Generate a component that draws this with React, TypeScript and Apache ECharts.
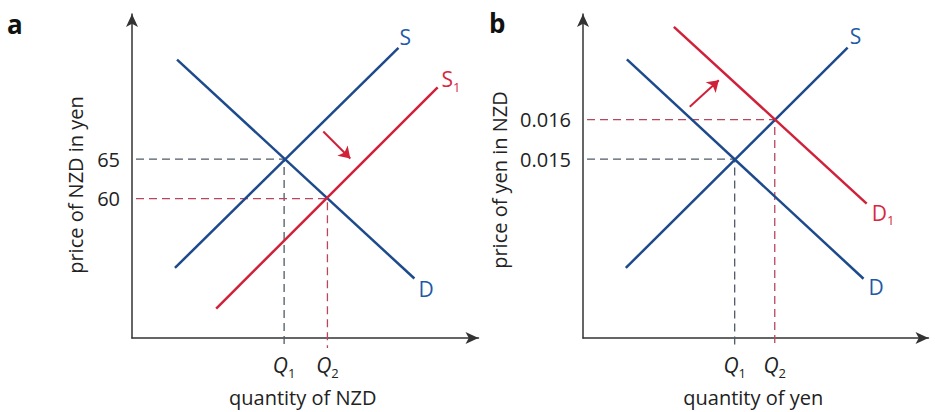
import React, { useEffect, useRef } from "react";
import * as echarts from "echarts";

// ---------- Panel a: market for NZD (price in yen) ----------
const A_DEMAND = [[13.0, 77.6], [81.5, 49.9]];
const A_SUPPLY = [[12.4, 51.25], [76.9, 79.1]];
const A_SUPPLY1 = [[24.3, 46.1], [88.2, 74.1]];
const A_PRICES = [65, 60]; // equilibrium prices (old, new)
const A_QUANTITIES = [43.9, 56.4]; // Q1, Q2
const A_SHIFT_ARROW = [[55.2, 68.5], [63.0, 65.1]];
const A_Y_RANGE = [42.375, 83.375];

// ---------- Panel b: market for yen (price in NZD) ----------
const B_DEMAND = [[12.7, 0.017525], [81.2, 0.011975]];
const B_SUPPLY = [[12.4, 0.01225], [76.6, 0.017825]];
const B_DEMAND1 = [[26.3, 0.01835], [82.1, 0.013875]];
const B_PRICES = [0.015, 0.016];
const B_QUANTITIES = [43.9, 55.5];
const B_SHIFT_ARROW = [[30.9, 0.016325], [39.3, 0.017]];
const B_Y_RANGE = [0.010475, 0.018675];

const X_RANGE = [0, 100];
const Q_SUBS = ["1", "2"];

const FONT = "Open Sans";
const BLUE = "#1d4a8c";
const RED = "#d0213a";
const LABEL_BLUE = "#1f5aa8";
const LABEL_RED = "#d9263f";
const GUIDE_GRAY = "#4f5b66";
const GUIDE_RED = "#b8465c";
const AXIS = "#333333";

const richLabel = (color: string) => ({
  m: { fontFamily: FONT, fontSize: 21, color },
  s: { fontFamily: FONT, fontSize: 13, color, padding: [15, 0, 0, 0] },
});

export default function App() {
  const ref = useRef<HTMLDivElement>(null);

  useEffect(() => {
    if (!ref.current) return;
    document.body.style.margin = "0";
    const chart = echarts.init(ref.current, null, { renderer: "svg" });

    const X_EXT = 2.6; // guide extends past the y axis
    const aYExt = 1.25;
    const bYExt = 0.00025;

    const axisLine = {
      show: true,
      symbol: ["none", "arrow"],
      symbolSize: [9, 13],
      lineStyle: { color: AXIS, width: 1.5 },
    };

    const xAxisBase = (gridIndex: number, name: string, qs: number[]) => ({
      type: "value",
      gridIndex,
      min: X_RANGE[0],
      max: X_RANGE[1],
      axisLine,
      axisTick: { show: false },
      splitLine: { show: false },
      name,
      nameLocation: "middle",
      nameGap: 49,
      nameTextStyle: {
        fontFamily: FONT,
        fontSize: 20,
        color: "#222",
        padding: [0, 5, 0, 0],
      },
      axisLabel: {
        customValues: qs,
        margin: 13,
        hideOverlap: false,
        formatter: (v: number) => {
          const i = qs.indexOf(v);
          return `{q|Q}{s|${Q_SUBS[i >= 0 ? i : 0]}}`;
        },
        rich: {
          q: { fontFamily: FONT, fontSize: 21, fontStyle: "italic", color: "#222" },
          s: { fontFamily: FONT, fontSize: 13, color: "#222", padding: [15, 0, 0, 0] },
        },
      },
    });

    const yAxisBase = (
      gridIndex: number,
      name: string,
      range: number[],
      prices: number[],
      gap: number,
      shiftPad: number,
      fmt: (v: number) => string
    ) => ({
      type: "value",
      gridIndex,
      min: range[0],
      max: range[1],
      axisLine,
      axisTick: { show: false },
      splitLine: { show: false },
      name,
      nameLocation: "middle",
      nameGap: gap,
      nameTextStyle: {
        fontFamily: FONT,
        fontSize: 20,
        color: "#222",
        padding: [0, shiftPad, 0, 0],
      },
      axisLabel: {
        customValues: prices,
        margin: 12,
        fontFamily: FONT,
        fontSize: 20,
        color: "#222",
        formatter: fmt,
      },
    });

    const curve = (
      idx: number,
      data: number[][],
      color: string,
      labelColor: string,
      text: string,
      offset: number[],
      distance: number,
      extra: any = {}
    ) => ({
      type: "line",
      xAxisIndex: idx,
      yAxisIndex: idx,
      data,
      symbol: "none",
      z: 3,
      lineStyle: { color, width: 2.5 },
      endLabel: {
        show: true,
        formatter: text,
        offset,
        distance,
        rich: richLabel(labelColor),
      },
      ...extra,
    });

    const guide = (
      idx: number,
      q: number,
      p: number,
      xStart: number,
      yEnd: number,
      color: string
    ) => ({
      type: "line",
      xAxisIndex: idx,
      yAxisIndex: idx,
      clip: false,
      symbol: "none",
      z: 2,
      data: [
        [xStart, p],
        [q, p],
        [q, yEnd],
      ],
      lineStyle: { color, width: 1.3, type: [8, 5] },
    });

    const arrow = (pts: number[][]) => ({
      markLine: {
        silent: true,
        symbol: ["none", "arrow"],
        symbolSize: 11,
        label: { show: false },
        lineStyle: { color: RED, width: 2, type: "solid" },
        data: [[{ coord: pts[0] }, { coord: pts[1] }]],
      },
    });

    const option: any = {
      animation: false,
      textStyle: { fontFamily: FONT },
      grid: [
        { left: 132, right: 456.5, top: 14, bottom: 70 },
        { left: 583, right: 6.5, top: 14, bottom: 70 },
      ],
      xAxis: [
        xAxisBase(0, "quantity of NZD", A_QUANTITIES),
        xAxisBase(1, "quantity of yen", B_QUANTITIES),
      ],
      yAxis: [
        yAxisBase(0, "price of NZD in yen", A_Y_RANGE, A_PRICES, 47, 18, (v) => String(v)),
        yAxisBase(1, "price of yen in NZD", B_Y_RANGE, B_PRICES, 74, 8, (v) => v.toFixed(3)),
      ],
      graphic: [
        {
          type: "text",
          left: 7,
          top: 11,
          style: { text: "a", fontFamily: FONT, fontSize: 26, fontWeight: "bold", fill: "#111" },
        },
        {
          type: "text",
          left: 489,
          top: 10,
          style: { text: "b", fontFamily: FONT, fontSize: 26, fontWeight: "bold", fill: "#111" },
        },
      ],
      series: [
        guide(0, A_QUANTITIES[0], A_PRICES[0], X_RANGE[0] - X_EXT, A_Y_RANGE[0] - aYExt, GUIDE_GRAY),
        guide(0, A_QUANTITIES[1], A_PRICES[1], X_RANGE[0] - X_EXT, A_Y_RANGE[0] - aYExt, GUIDE_RED),
        curve(0, A_DEMAND, BLUE, LABEL_BLUE, "{m|D}", [0, 10], 4),
        curve(0, A_SUPPLY, BLUE, LABEL_BLUE, "{m|S}", [0, -11], 1),
        curve(0, A_SUPPLY1, RED, LABEL_RED, "{m|S}{s|1}", [0, -8], 4, arrow(A_SHIFT_ARROW)),
        guide(1, B_QUANTITIES[0], B_PRICES[0], X_RANGE[0] - X_EXT, B_Y_RANGE[0] - bYExt, GUIDE_GRAY),
        guide(1, B_QUANTITIES[1], B_PRICES[1], X_RANGE[0] - X_EXT, B_Y_RANGE[0] - bYExt, GUIDE_RED),
        curve(1, B_DEMAND, BLUE, LABEL_BLUE, "{m|D}", [0, 8], 5),
        curve(1, B_SUPPLY, BLUE, LABEL_BLUE, "{m|S}", [0, -12], 2),
        curve(1, B_DEMAND1, RED, LABEL_RED, "{m|D}{s|1}", [0, 9], 5, arrow(B_SHIFT_ARROW)),
      ],
    };

    chart.setOption(option);
    return () => chart.dispose();
  }, []);

  return (
    <div
      ref={ref}
      style={{ position: "fixed", left: 0, top: 0, width: 935, height: 412, background: "#fff" }}
    />
  );
}
